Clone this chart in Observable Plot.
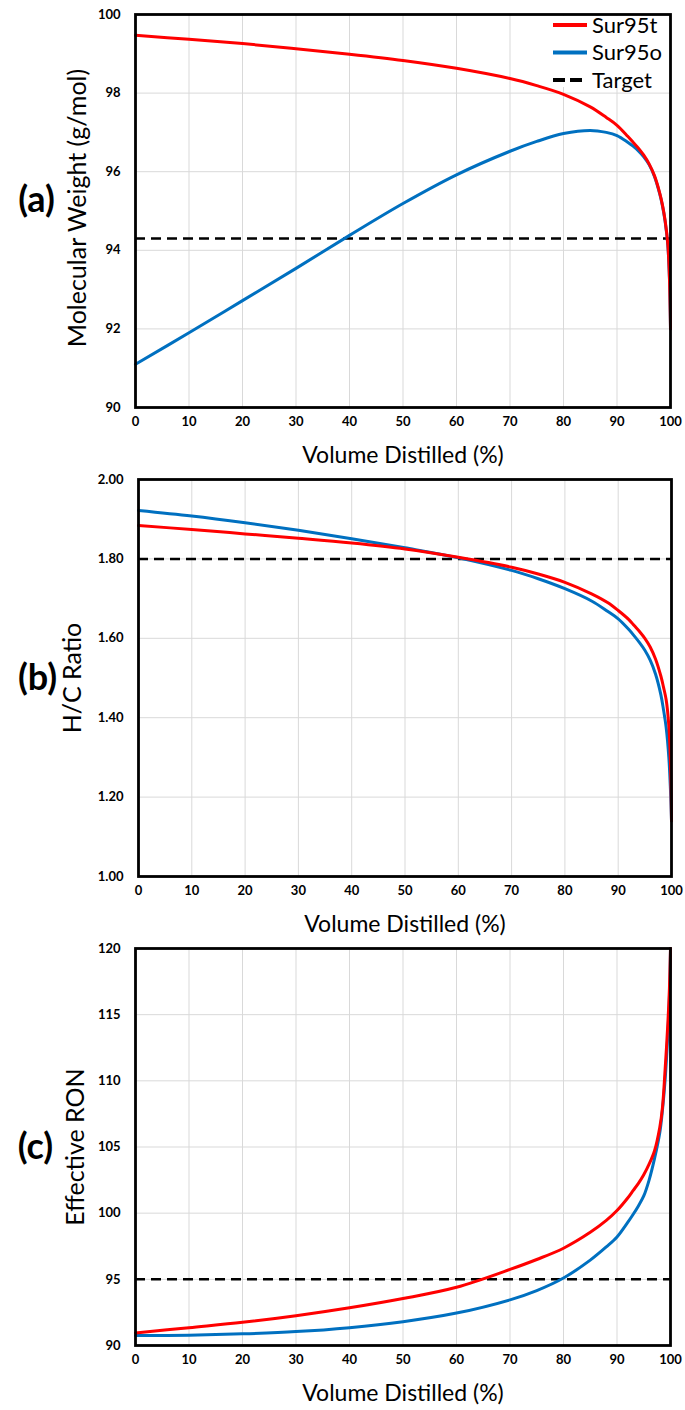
<!DOCTYPE html>
<html><head><meta charset="utf-8">
<script src="https://cdn.jsdelivr.net/npm/d3@7"></script>
<script src="https://cdn.jsdelivr.net/npm/@observablehq/plot@0.6"></script>
<style>
body{margin:0;background:#fff;font-family:Lato,"Open Sans",sans-serif;}
#wrap{position:relative;width:685px;height:1410px;}
#wrap svg{display:block;}
.legend{position:absolute;left:548px;top:0px;width:122px;height:96px;}
</style></head><body><div id="wrap"></div>
<script>
// Volume distilled (%) sample points
const volume = [0,10,20,30,40,50,60,70,75,80,85,88,90,92,93,94,95,96,97,98,98.5,99,99.5,99.8,100];
// (a) Molecular weight (g/mol)
const mwSur95t = [99.47,99.37,99.26,99.13,98.99,98.83,98.63,98.37,98.19,97.97,97.65,97.38,97.18,96.90,96.75,96.60,96.42,96.20,95.90,95.45,95.15,94.75,94.15,93.30,92.00];
const mwSur95o = [91.10,91.90,92.72,93.54,94.38,95.19,95.92,96.52,96.77,96.97,97.05,97.00,96.92,96.75,96.65,96.53,96.38,96.18,95.88,95.43,95.13,94.73,94.13,93.30,92.00];
const mwTarget = 94.3;
// (b) H/C ratio
const hcSur95t = [1.884,1.874,1.863,1.852,1.840,1.825,1.804,1.779,1.762,1.741,1.712,1.690,1.670,1.647,1.632,1.617,1.600,1.578,1.548,1.505,1.477,1.445,1.380,1.290,1.140];
const hcSur95o = [1.922,1.908,1.891,1.872,1.851,1.828,1.803,1.771,1.750,1.725,1.694,1.668,1.649,1.622,1.606,1.589,1.570,1.545,1.510,1.458,1.420,1.375,1.300,1.220,1.140];
const hcTarget = 1.80;
// (c) Effective RON
const ronSur95t = [90.95,91.35,91.75,92.25,92.85,93.55,94.40,95.75,96.50,97.35,98.55,99.45,100.2,101.15,101.7,102.25,102.9,103.7,104.7,106.5,108.0,110.9,114.3,117.0,120.0];
const ronSur95o = [90.75,90.78,90.88,91.05,91.35,91.80,92.45,93.45,94.15,95.10,96.45,97.45,98.20,99.30,99.90,100.55,101.3,102.5,104.1,106.1,107.8,110.1,113.5,116.3,120.0];
const ronTarget = 95;

const xTicks = [0,10,20,30,40,50,60,70,80,90,100];
const mwTicks = [90,92,94,96,98,100];
const hcTicks = [1.0,1.2,1.4,1.6,1.8,2.0];
const ronTicks = [90,95,100,105,110,115,120];

const seriesNames = ["Sur95t","Sur95o","Target"];
const colors = {Sur95t:"#FF0000", Sur95o:"#0070C0"};
const FONT = "Lato, 'Open Sans', sans-serif";

function panel(o){
  const rows = (vals) => volume.map((v,i)=>({x:v, y:vals[i]}));
  return Plot.plot({
    width:685, height:470,
    marginTop:o.mt, marginBottom:o.mb, marginLeft:o.ml, marginRight:o.mr,
    style:{fontFamily:FONT, background:"white", overflow:"visible", color:"black"},
    x:{domain:[0,100]},
    y:{domain:o.domain},
    marks:[
      Plot.gridX(xTicks,{stroke:"#d9d9d9", strokeOpacity:1, strokeWidth:1}),
      Plot.gridY(o.ticks,{stroke:"#d9d9d9", strokeOpacity:1, strokeWidth:1}),
      Plot.axisX(xTicks,{tickSize:0, tickPadding:9, fontSize:13, fontWeight:"bold", label:null, tickFormat:d=>String(d)}),
      Plot.axisY(o.ticks,{tickSize:0, tickPadding:15, fontSize:13, fontWeight:"bold", label:null, tickFormat:o.fmt}),
      Plot.ruleY([o.target],{stroke:"black", strokeWidth:2.5, strokeDasharray:"10,6"}),
      Plot.line(rows(o.s2),{x:"x", y:"y", stroke:colors.Sur95o, strokeWidth:3, curve:"catmull-rom"}),
      Plot.line(rows(o.s1),{x:"x", y:"y", stroke:colors.Sur95t, strokeWidth:3, curve:"catmull-rom"}),
      Plot.frame({stroke:"black", strokeWidth:2.8}),
      Plot.text([o.ylabel],{text:d=>d, frameAnchor:"left", textAnchor:"middle", lineAnchor:"middle", rotate:-90, dx:o.ldx, dy:o.ldy, fontSize:25}),
      Plot.text([o.tag],{text:d=>d, frameAnchor:"left", textAnchor:"middle", lineAnchor:"middle", dx:o.tdx, dy:o.tdy, fontSize:36, fontWeight:"bold"}),
      Plot.text(["Volume Distilled (%)"],{text:d=>d, frameAnchor:"bottom", textAnchor:"middle", lineAnchor:"middle", dy:48, fontSize:23})
    ]
  });
}

const wrap = document.getElementById("wrap");
wrap.appendChild(panel({mt:14, mb:63, ml:135, mr:15, domain:[90,100], ticks:mwTicks, fmt:d=>String(d), target:mwTarget, s1:mwSur95t, s2:mwSur95o, ylabel:"Molecular Weight (g/mol)", ldx:-58, ldy:-3, tag:"(a)", tdx:-99, tdy:-11}));
wrap.appendChild(panel({mt:9, mb:64, ml:138, mr:14, domain:[1,2], ticks:hcTicks, fmt:d=>d.toFixed(2), target:hcTarget, s1:hcSur95t, s2:hcSur95o, ylabel:"H/C Ratio", ldx:-66, ldy:0, tag:"(b)", tdx:-101, tdy:0}));
wrap.appendChild(panel({mt:8, mb:65, ml:135, mr:15, domain:[90,120], ticks:ronTicks, fmt:d=>String(d), target:ronTarget, s1:ronSur95t, s2:ronSur95o, ylabel:"Effective RON", ldx:-60, ldy:0, tag:"(c)", tdx:-100, tdy:0}));

// Legend (inside panel a, top right)
const leg = document.createElement("div");
leg.className = "legend";
const ls = d3.create("svg").attr("width",122).attr("height",96);
ls.append("rect").attr("x",0).attr("y",16).attr("width",120).attr("height",71).attr("fill","white");
seriesNames.forEach((n,i)=>{
  const y = 25 + i*27.5;
  const line = ls.append("line").attr("x1",5).attr("x2",39).attr("y1",y).attr("y2",y)
    .attr("stroke", n==="Target" ? "black" : colors[n]).attr("stroke-width",4);
  if(n==="Target") line.attr("stroke-dasharray","12,5");
  ls.append("text").attr("x",44).attr("y",y).attr("dy","0.35em")
    .attr("font-family",FONT).attr("font-size",22).attr("fill","black").text(n);
});
leg.appendChild(ls.node());
wrap.appendChild(leg);
</script>
</body></html>
